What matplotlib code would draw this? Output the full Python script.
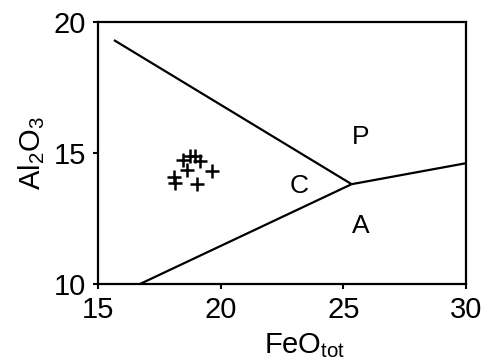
import matplotlib
matplotlib.use("Agg")
import matplotlib.pyplot as plt

plt.rcParams['font.family'] = ['Liberation Sans', 'DejaVu Sans']
plt.rcParams['mathtext.fontset'] = 'custom'
plt.rcParams['mathtext.rm'] = 'Liberation Sans'

# field boundaries (FeO_tot, Al2O3)
upper_x = [15.65, 25.34]
upper_y = [19.31, 13.81]
right_x = [25.34, 30.0]
right_y = [13.81, 14.61]
lower_x = [16.71, 25.34]
lower_y = [10.0, 13.81]

# samples
feo = [18.47, 18.75, 18.95, 19.16, 18.63, 19.65, 18.10, 18.14, 19.04]
al2o3 = [14.73, 14.89, 14.89, 14.69, 14.35, 14.31, 14.08, 13.85, 13.82]

# field labels
fields = ['P', 'C', 'A']
field_x = [25.7, 23.2, 25.7]
field_y = [15.6, 13.75, 12.2]

fig = plt.figure(figsize=(4.88, 3.63), dpi=100)
ax = fig.add_axes([0.2008, 0.2176, 0.754, 0.7218])

for xs, ys in [(upper_x, upper_y), (right_x, right_y), (lower_x, lower_y)]:
    ax.plot(xs, ys, color='black', lw=1.6, solid_capstyle='butt')

ax.plot(feo, al2o3, linestyle='none', marker='+', color='black',
        markersize=10, markeredgewidth=1.8)

for lab, fx, fy in zip(fields, field_x, field_y):
    ax.text(fx, fy, lab, fontsize=19, ha='center', va='center')

ax.set_xlim(15, 30)
ax.set_ylim(10, 20)
ax.set_xticks([15, 20, 25, 30])
ax.set_yticks([10, 15, 20])
ax.tick_params(direction='out', length=3.5, width=1.5, labelsize=21, pad=5)
for s in ax.spines.values():
    s.set_linewidth(1.6)

ax.set_xlabel('FeO$_{\\mathrm{tot}}$', fontsize=21, labelpad=5)
ax.xaxis.label.set_x(0.5625)
ax.set_ylabel('Al$_{\\mathrm{2}}$O$_{\\mathrm{3}}$', fontsize=21, labelpad=5)

fig.savefig('out.png', dpi=100)
